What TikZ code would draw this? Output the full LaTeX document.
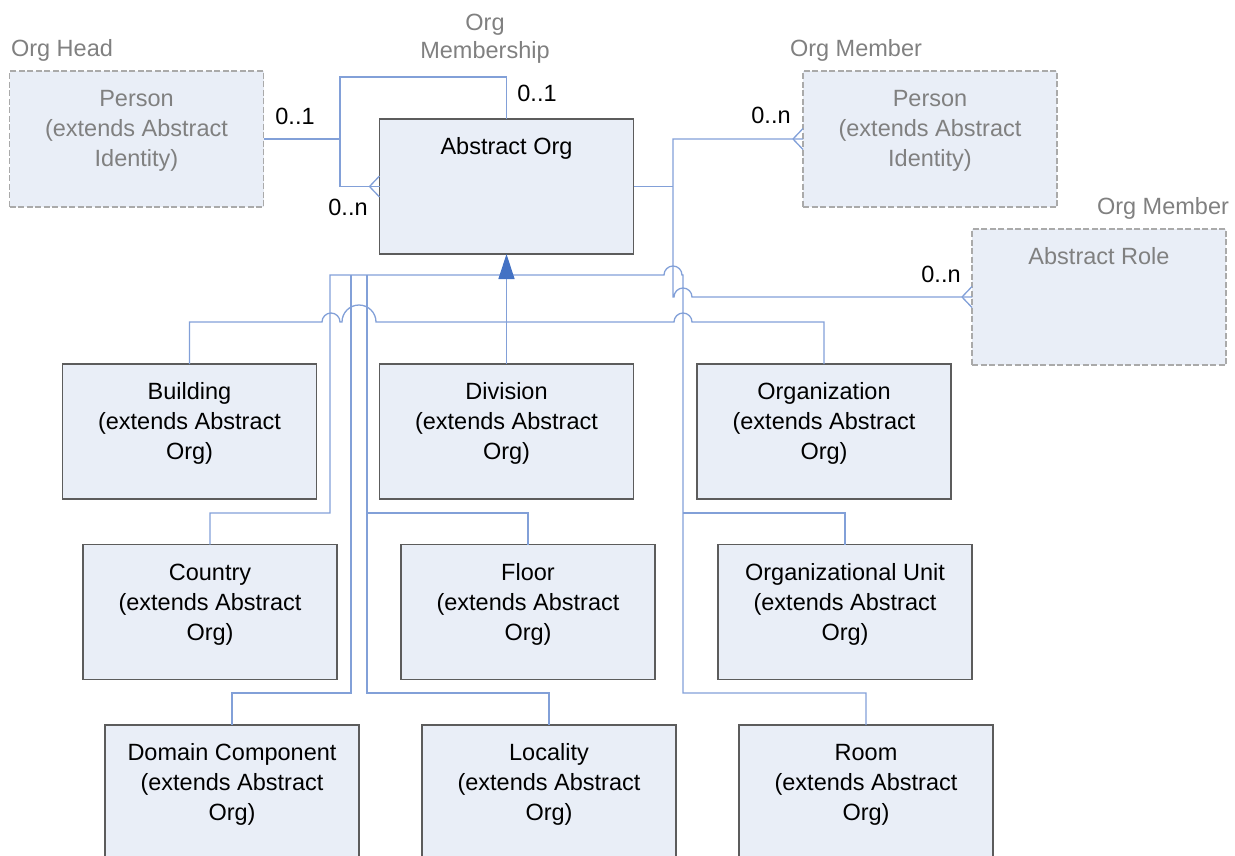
\documentclass[tikz,border=0pt]{standalone}
\usepackage{fontspec}
\setmainfont{Liberation Sans}
\usetikzlibrary{arrows.meta}
\definecolor{boxfill}{RGB}{233,238,247}
\definecolor{boxline}{RGB}{92,92,92}
\definecolor{dashline}{RGB}{170,170,170}
\definecolor{connblue}{RGB}{130,160,216}
\definecolor{arrowblue}{RGB}{68,114,196}
\definecolor{txtgray}{RGB}{128,128,128}
\newcommand\fsz{\fontsize{23.5}{30}\selectfont}
\newcommand\crowfoot[1]{\draw[conn] ([xshift=-10pt]#1) -- ([yshift=10.5pt]#1) ([xshift=-10pt]#1) -- ([yshift=-10.5pt]#1);}
\begin{document}
\begin{tikzpicture}[x=1pt,y=-1pt,
 cbox/.style={draw=boxline, line width=1.2pt, fill=boxfill, minimum width=254pt, minimum height=135pt, inner sep=0pt, outer sep=0pt},
 ebox/.style={draw=dashline, line width=1.2pt, dash pattern=on 6pt off 2.5pt, fill=boxfill, minimum width=254pt, minimum height=136pt, inner sep=0pt, outer sep=0pt},
 boxtxt/.style={anchor=north, inner sep=0pt, align=center, font=\fsz, text=black},
 graytxt/.style={boxtxt, text=txtgray},
 lbl/.style={anchor=base, inner sep=0pt, font=\fsz, text=black},
 rolelbl/.style={lbl, text=txtgray},
 conn/.style={draw=connblue, line width=1.3pt},
]
\useasboundingbox (0,0) rectangle (1235,855);
\clip (0,0) rectangle (1235,855);

% boxes
\node[ebox] (ohead) at (136.5,139) {};
\node[cbox] (aorg) at (506.5,186.5) {};
\node[ebox] (omem) at (930,139) {};
\node[ebox] (arole) at (1099,297) {};
\node[cbox] (bld) at (189.5,431.5) {};
\node[cbox] (div) at (506.5,431.5) {};
\node[cbox] (org) at (824,431.5) {};
\node[cbox] (cty) at (210,612) {};
\node[cbox] (flr) at (528,612) {};
\node[cbox] (ou) at (845,612) {};
\node[cbox] (dc) at (232,792.5) {};
\node[cbox] (loc) at (549,792.5) {};
\node[cbox] (room) at (866,792.5) {};

% box texts
\node[graytxt] (oheadT) at ([yshift=-14.5pt]ohead.north) {\strut Person\\(extends Abstract\\Identity)};
\node[boxtxt] (aorgT) at ([yshift=-14.5pt]aorg.north) {\strut Abstract Org};
\node[graytxt] (omemT) at ([yshift=-14.5pt]omem.north) {\strut Person\\(extends Abstract\\Identity)};
\node[graytxt] (aroleT) at ([yshift=-14.5pt]arole.north) {\strut Abstract Role};
\node[boxtxt] (bldT) at ([yshift=-14.5pt]bld.north) {\strut Building\\(extends Abstract\\Org)};
\node[boxtxt] (divT) at ([yshift=-14.5pt]div.north) {\strut Division\\(extends Abstract\\Org)};
\node[boxtxt] (orgT) at ([yshift=-14.5pt]org.north) {\strut Organization\\(extends Abstract\\Org)};
\node[boxtxt] (ctyT) at ([yshift=-14.5pt]cty.north) {\strut Country\\(extends Abstract\\Org)};
\node[boxtxt] (flrT) at ([yshift=-14.5pt]flr.north) {\strut Floor\\(extends Abstract\\Org)};
\node[boxtxt] (ouT) at ([yshift=-14.5pt]ou.north) {\strut Organizational Unit\\(extends Abstract\\Org)};
\node[boxtxt] (dcT) at ([yshift=-14.5pt]dc.north) {\strut Domain Component\\(extends Abstract\\Org)};
\node[boxtxt] (locT) at ([yshift=-14.5pt]loc.north) {\strut Locality\\(extends Abstract\\Org)};
\node[boxtxt] (roomT) at ([yshift=-14.5pt]room.north) {\strut Room\\(extends Abstract\\Org)};

% role labels
\node[rolelbl] (lhead) at (62,56) {Org Head};
\node[rolelbl] (lmem1) at (485,30) {Org};
\node[rolelbl] (lmem2) at (485,58) {Membership};
\node[rolelbl] (lmember) at (856,56) {Org Member};
\node[rolelbl] (lmember2) at (1163,214.5) {Org Member};

% multiplicities
\node[lbl] (m1) at (295,124) {0..1};
\node[lbl] (m2) at (537,101.5) {0..1};
\node[lbl] (m3) at (348,215) {0..n};
\node[lbl] (m4) at (771,123.5) {0..n};
\node[lbl] (m5) at (941,282) {0..n};

% Org membership (self association) and org head
\draw[conn] (ohead.east) -- (340,139);
\draw[conn] (aorg.north) |- (340,77) -- (340,186.5) -- (aorg.west);
\crowfoot{aorg.west}

% Org member associations
\draw[conn] (aorg.east) -- (673,186.5);
\draw[conn] (omem.west) -| (673,297) -- (674,297)
  arc[start angle=180,end angle=360,radius=9] -- (arole.west);
\crowfoot{omem.west}
\crowfoot{arole.west}

% generalization bus
\draw[conn] (cty.north) |- (330,513) -- (330,275) -- (664,275)
  arc[start angle=180,end angle=360,radius=9] -- (683,275) -- (683,693) -| (room.north);
\draw[conn] (683,513) -| (ou.north);
\draw[conn] (351,275) -- (351,693) -| (dc.north);
\draw[conn] (367,275) -- (367,693) -| (loc.north);
\draw[conn] (367,513) -| (flr.north);
\draw[conn] (bld.north) |- (322,322)
  arc[start angle=180,end angle=360,radius=9] -- (342,322)
  arc[start angle=180,end angle=360,radius=17] -- (674,322)
  arc[start angle=180,end angle=360,radius=9] -| (org.north);
\draw[conn, -{Triangle[length=25pt,width=16pt,color=arrowblue]}] (div.north) -- (aorg.south);
\end{tikzpicture}
\end{document}
